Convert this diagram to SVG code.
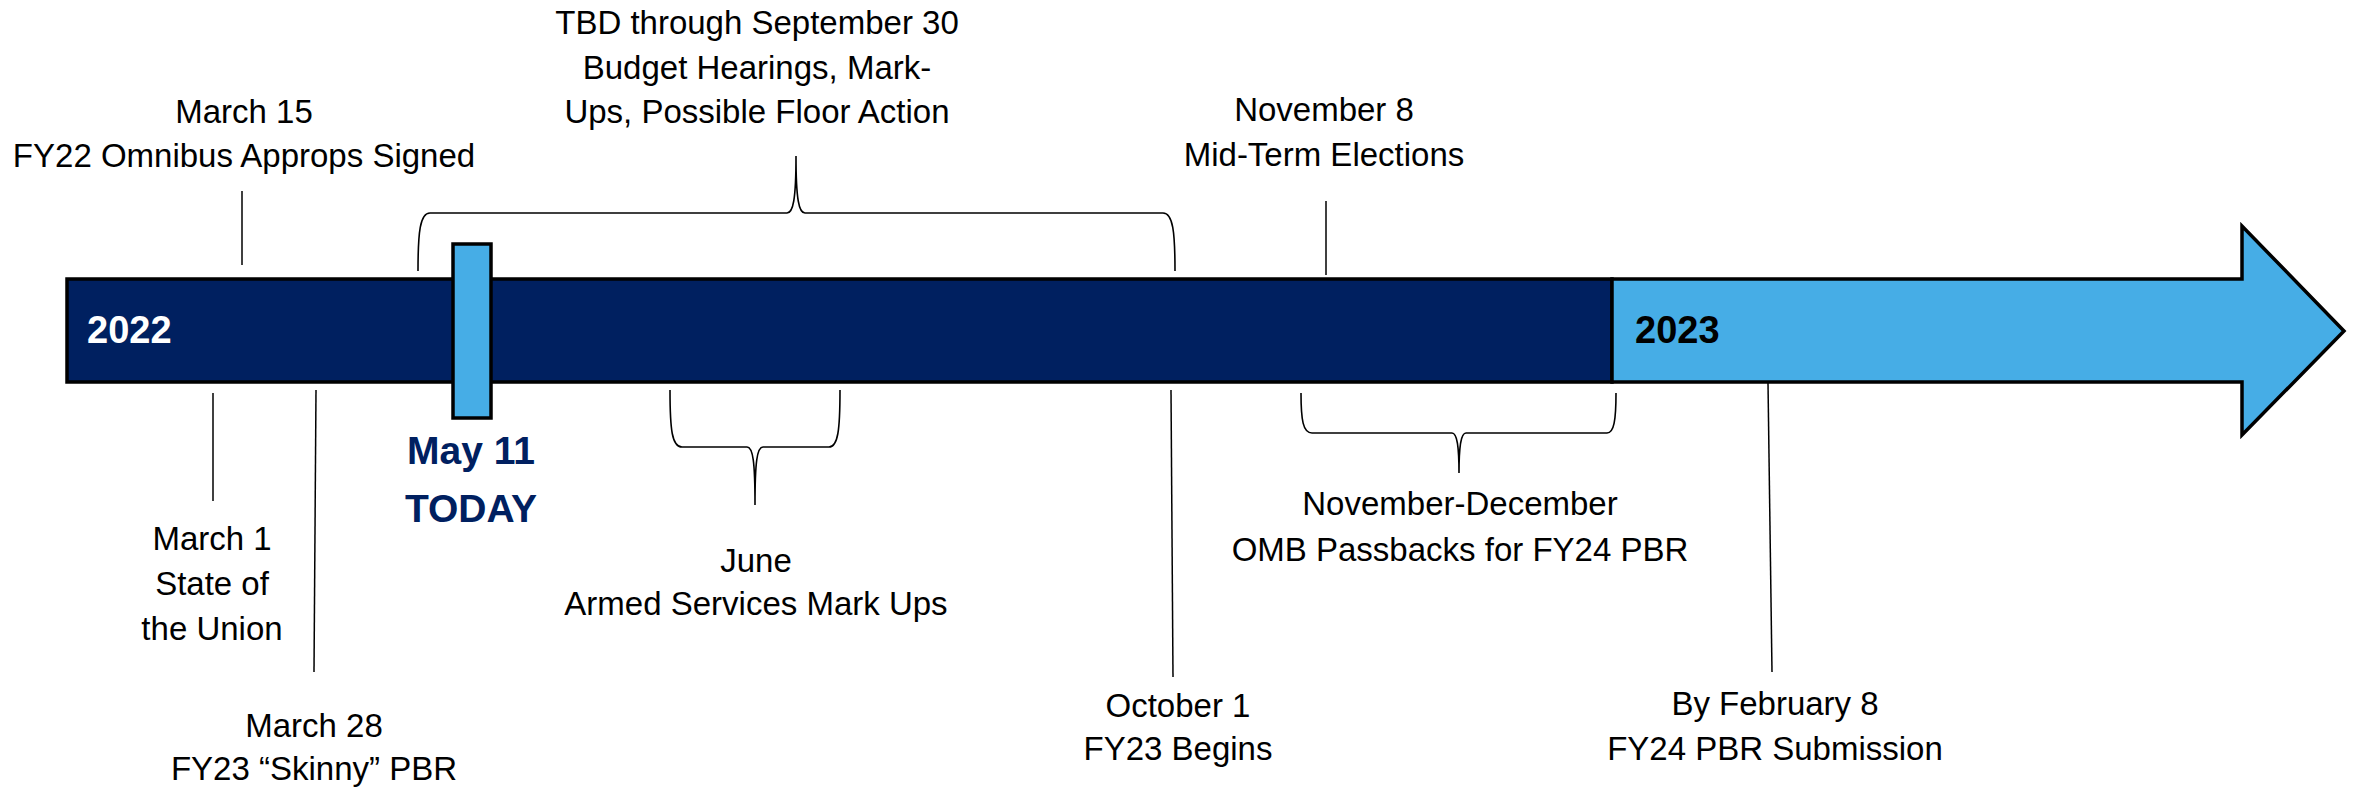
<svg xmlns="http://www.w3.org/2000/svg" width="2357" height="788" viewBox="0 0 2357 788">
<style>
.lbl{font-family:"Liberation Sans",Arial,sans-serif;font-size:33px;fill:#000;text-anchor:middle}
.yr{font-family:"Liberation Sans",Arial,sans-serif;font-size:38px;font-weight:bold}
.today{font-family:"Liberation Sans",Arial,sans-serif;font-size:39px;font-weight:bold;fill:#002060;text-anchor:middle}
.ln{stroke:#000;stroke-width:1.5;fill:none}
.br{stroke:#000;stroke-width:1.6;fill:none}
</style>
<rect width="2357" height="788" fill="#fff"/>
<g id="timeline">
  <rect x="67" y="279" width="1545" height="103" fill="#002060" stroke="#000" stroke-width="3.5"/>
  <polygon points="1612,279 2242,279 2242,226 2344,331 2242,435 2242,382 1612,382" fill="#46ADE6" stroke="#000" stroke-width="3.5" stroke-linejoin="miter"/>
  <text class="yr" x="87" y="343" fill="#fff">2022</text>
  <text class="yr" x="1635" y="343" fill="#000">2023</text>
</g>
<g id="today">
  <rect x="453" y="244" width="38" height="174" fill="#46ADE6" stroke="#000" stroke-width="3.5"/>
  <text class="today" x="471" y="464">May 11</text>
  <text class="today" x="471" y="522">TODAY</text>
</g>
<g id="connectors">
  <line class="ln" x1="242" y1="191" x2="242" y2="265"/>
  <line class="ln" x1="1326" y1="201" x2="1326" y2="275"/>
  <line class="ln" x1="213" y1="393" x2="213" y2="501"/>
  <line class="ln" x1="316" y1="390" x2="314" y2="672"/>
  <line class="ln" x1="1171" y1="390" x2="1173" y2="677"/>
  <line class="ln" x1="1768" y1="383" x2="1772" y2="672"/>
  <path class="br" d="M418,271 C418,232 420,213 430,213 L787,213 C793,213 796,200 796,156 C796,200 799,213 805,213 L1163,213 C1173,213 1175,232 1175,271"/>
  <path class="br" d="M670,390 C670,430 672,447 682,447 L747,447 C753,447 755,462 755,505 C755,462 757,447 763,447 L829,447 C838,447 840,430 840,390"/>
  <path class="br" d="M1301,393 C1301,420 1303,433 1312,433 L1452,433 C1457,433 1459,446 1459,473 C1459,446 1461,433 1466,433 L1607,433 C1614,433 1616,420 1616,393"/>
</g>
<g id="mar15">
  <text class="lbl" x="244" y="123">March 15</text>
  <text class="lbl" x="244" y="167">FY22 Omnibus Approps Signed</text>
</g>
<g id="tbd">
  <text class="lbl" x="757" y="34">TBD through September 30</text>
  <text class="lbl" x="757" y="79">Budget Hearings, Mark-</text>
  <text class="lbl" x="757" y="123">Ups, Possible Floor Action</text>
</g>
<g id="nov8">
  <text class="lbl" x="1324" y="121">November 8</text>
  <text class="lbl" x="1324" y="166">Mid-Term Elections</text>
</g>
<g id="mar1">
  <text class="lbl" x="212" y="550">March 1</text>
  <text class="lbl" x="212" y="595">State of</text>
  <text class="lbl" x="212" y="640">the Union</text>
</g>
<g id="mar28">
  <text class="lbl" x="314" y="737">March 28</text>
  <text class="lbl" x="314" y="780">FY23 “Skinny” PBR</text>
</g>
<g id="june">
  <text class="lbl" x="756" y="572">June</text>
  <text class="lbl" x="756" y="615">Armed Services Mark Ups</text>
</g>
<g id="oct1">
  <text class="lbl" x="1178" y="717">October 1</text>
  <text class="lbl" x="1178" y="760">FY23 Begins</text>
</g>
<g id="novdec">
  <text class="lbl" x="1460" y="515">November-December</text>
  <text class="lbl" x="1460" y="561">OMB Passbacks for FY24 PBR</text>
</g>
<g id="feb8">
  <text class="lbl" x="1775" y="715">By February 8</text>
  <text class="lbl" x="1775" y="760">FY24 PBR Submission</text>
</g>
</svg>
